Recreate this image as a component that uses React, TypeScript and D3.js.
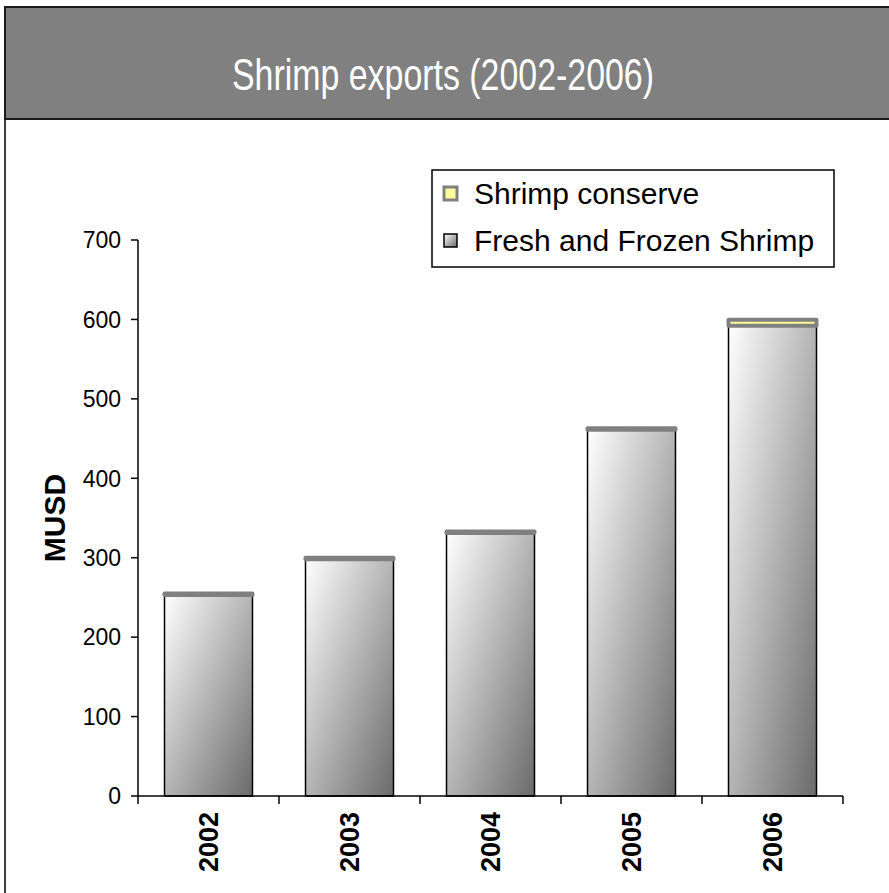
import React from "react";
import * as d3 from "d3";

const years = ["2002", "2003", "2004", "2005", "2006"];
const freshFrozen = [253, 298, 331, 461, 592];
const conserve = [2, 2, 2, 2, 7.5];
const yTicks = [0, 100, 200, 300, 400, 500, 600, 700];
const seriesNames = ["Shrimp conserve", "Fresh and Frozen Shrimp"];
const title = "Shrimp exports (2002-2006)";
const yLabel = "MUSD";

export default function App() {
  const W = 889;
  const H = 893;
  const y = d3.scaleLinear().domain([0, 700]).range([796, 240]);
  const x = d3
    .scaleBand<string>()
    .domain(years)
    .range([138, 843])
    .paddingInner(0.376)
    .paddingOuter(0.188);
  const step = x.step();
  const bounds = d3.range(years.length + 1).map((i) => 138 + i * step);
  const font = "'Liberation Sans', Arial, sans-serif";

  return (
    <svg
      width={W}
      height={H}
      style={{ position: "absolute", left: 0, top: 0, background: "#fff" }}
    >
      <defs>
        <linearGradient id="barGrad" x1="0" y1="0" x2="1" y2="1">
          <stop offset="0%" stopColor="#ffffff" />
          <stop offset="100%" stopColor="#6a6a6a" />
        </linearGradient>
      </defs>
      {/* outer frame */}
      <rect x={5} y={7} width={900} height={900} fill="#fff" stroke="#000" strokeWidth={1.5} />
      {/* title bar */}
      <rect x={5} y={7} width={900} height={112} fill="#808080" stroke="#1a1a1a" strokeWidth={2} />
      <text
        x={232}
        y={90}
        textAnchor="start"
        fill="#fff"
        fontSize={44}
        textLength={422}
        lengthAdjust="spacingAndGlyphs"
        style={{ fontFamily: font }}
      >
        {title}
      </text>

      {/* bars */}
      {years.map((yr, i) => {
        const bx = x(yr)!;
        const bw = x.bandwidth();
        const f0 = y(0);
        const f1 = y(freshFrozen[i]);
        const c1 = y(freshFrozen[i] + conserve[i]);
        return (
          <g key={yr}>
            <rect x={bx} y={f1} width={bw} height={f0 - f1} fill="url(#barGrad)" stroke="#000" strokeWidth={1.5} />
            <rect
              x={bx}
              y={c1}
              width={bw}
              height={Math.max(f1 - c1, 0.5)}
              fill="#ffff99"
              stroke="#808080"
              strokeWidth={4}
              strokeLinejoin="round"
            />
          </g>
        );
      })}

      {/* y axis */}
      <line x1={138} x2={138} y1={y(700)} y2={y(0)} stroke="#000" strokeWidth={1.5} />
      {yTicks.map((t) => (
        <g key={t}>
          <line x1={131} x2={138} y1={y(t)} y2={y(t)} stroke="#000" strokeWidth={1.5} />
          <text x={121} y={y(t)} dy="0.36em" textAnchor="end" fontSize={23} style={{ fontFamily: font }}>
            {t}
          </text>
        </g>
      ))}
      {/* x axis */}
      <line x1={138} x2={843} y1={y(0)} y2={y(0)} stroke="#000" strokeWidth={1.5} />
      {bounds.map((b, i) => (
        <line key={i} x1={b} x2={b} y1={y(0)} y2={y(0) + 8} stroke="#000" strokeWidth={1.5} />
      ))}
      {years.map((yr) => {
        const cx = x(yr)! + x.bandwidth() / 2;
        return (
          <text
            key={yr}
            transform={`translate(${cx},${812}) rotate(-90)`}
            textAnchor="end"
            dy="0.36em"
            fontSize={27}
            fontWeight="bold"
            style={{ fontFamily: font }}
          >
            {yr}
          </text>
        );
      })}
      <text
        transform={`translate(54,518) rotate(-90)`}
        textAnchor="middle"
        dy="0.36em"
        fontSize={30}
        fontWeight="bold"
        style={{ fontFamily: font }}
      >
        {yLabel}
      </text>

      {/* legend */}
      <rect x={432} y={170} width={402} height={97} fill="#fff" stroke="#000" strokeWidth={1.5} />
      <rect x={444} y={187} width={13} height={13} fill="#ffff99" stroke="#808080" strokeWidth={3} />
      <text x={474} y={193} dy="0.36em" fontSize={30} style={{ fontFamily: font }}>
        {seriesNames[0]}
      </text>
      <rect x={444} y={234} width={13} height={13} fill="url(#barGrad)" stroke="#000" strokeWidth={1.5} />
      <text x={474} y={240} dy="0.36em" fontSize={30} style={{ fontFamily: font }}>
        {seriesNames[1]}
      </text>
    </svg>
  );
}
